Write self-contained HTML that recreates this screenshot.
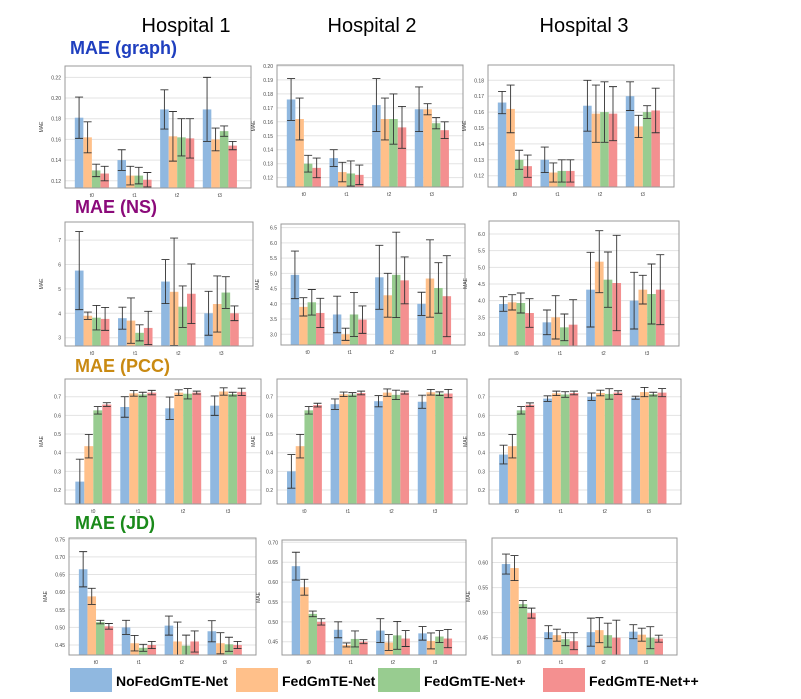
<!DOCTYPE html>
<html><head><meta charset="utf-8">
<style>
body{margin:0;background:#fff;}
svg{display:block;font-family:"Liberation Sans",sans-serif;}
</style></head>
<body>
<svg id="fig" width="801" height="699" viewBox="0 0 801 699" xmlns="http://www.w3.org/2000/svg">
<text x="186" y="32" font-size="20" text-anchor="middle">Hospital 1</text>
<text x="372" y="32" font-size="20" text-anchor="middle">Hospital 2</text>
<text x="584" y="32" font-size="20" text-anchor="middle">Hospital 3</text>
<text x="70" y="54" font-size="18" font-weight="bold" fill="#1f3fbf">MAE (graph)</text>
<text x="75" y="213" font-size="18" font-weight="bold" fill="#8b0a7a">MAE (NS)</text>
<text x="75" y="372" font-size="18" font-weight="bold" fill="#c98a12">MAE (PCC)</text>
<text x="75" y="529" font-size="18" font-weight="bold" fill="#1a8a1a">MAE (JD)</text>
<g id="panels"></g>
<g>
<rect x="70" y="668" width="42" height="24" fill="#90b8e0"/>
<text x="116" y="686" font-size="14" font-weight="bold">NoFedGmTE-Net</text>
<rect x="236" y="668" width="42" height="24" fill="#ffc08a"/>
<text x="282" y="686" font-size="14" font-weight="bold">FedGmTE-Net</text>
<rect x="378" y="668" width="42" height="24" fill="#98cc90"/>
<text x="424" y="686" font-size="14" font-weight="bold">FedGmTE-Net+</text>
<rect x="543" y="668" width="42" height="24" fill="#f49090"/>
<text x="589" y="686" font-size="14" font-weight="bold">FedGmTE-Net++</text>
</g>
</svg>
<script>
const categories = ["t0","t1","t2","t3"];
const seriesNames = ["NoFedGmTE-Net","FedGmTE-Net","FedGmTE-Net+","FedGmTE-Net++"];
// graph
const g1Vals = [[0.181,0.140,0.189,0.189],[0.162,0.125,0.163,0.160],[0.130,0.125,0.162,0.168],[0.127,0.121,0.161,0.154]];
const g1Errs = [[0.02,0.01,0.019,0.031],[0.015,0.009,0.024,0.011],[0.006,0.008,0.018,0.005],[0.007,0.007,0.019,0.004]];
const g2Vals = [[0.176,0.134,0.172,0.169],[0.162,0.124,0.162,0.169],[0.130,0.123,0.162,0.159],[0.127,0.122,0.156,0.154]];
const g2Errs = [[0.015,0.006,0.019,0.016],[0.015,0.007,0.015,0.004],[0.006,0.009,0.018,0.004],[0.007,0.007,0.015,0.006]];
const g3Vals = [[0.166,0.130,0.164,0.170],[0.162,0.122,0.159,0.151],[0.130,0.123,0.160,0.160],[0.126,0.123,0.159,0.161]];
const g3Errs = [[0.007,0.008,0.016,0.009],[0.015,0.006,0.018,0.007],[0.006,0.007,0.019,0.004],[0.007,0.007,0.017,0.014]];
// NS
const n1Vals = [[5.75,3.8,5.3,4.0],[3.9,3.7,4.88,4.38],[3.82,3.2,4.27,4.85],[3.77,3.4,4.8,4.0]];
const n1Errs = [[1.6,0.45,0.9,0.9],[0.15,0.93,2.2,1.15],[0.5,0.33,0.85,0.65],[0.47,0.68,1.22,0.3]];
const n2Vals = [[4.95,3.65,4.87,4.0],[3.9,3.0,4.28,4.83],[4.05,3.65,4.95,4.52],[3.7,3.48,4.77,4.25]];
const n2Errs = [[0.78,0.6,1.05,0.38],[0.3,0.2,0.72,1.27],[0.42,0.72,1.4,0.83],[0.48,0.45,0.77,1.33]];
const n3Vals = [[3.9,3.35,4.33,4.0],[3.95,3.5,5.17,4.33],[3.93,3.2,4.63,4.2],[3.63,3.28,4.53,4.33]];
const n3Errs = [[0.22,0.37,1.12,0.85],[0.23,0.65,0.93,0.43],[0.3,0.4,0.83,0.9],[0.43,0.75,1.43,1.05]];
// PCC
const p1Vals = [[0.245,0.645,0.638,0.652],[0.435,0.718,0.722,0.728],[0.627,0.712,0.716,0.714],[0.658,0.722,0.722,0.726]];
const p1Errs = [[0.12,0.055,0.06,0.052],[0.063,0.015,0.015,0.02],[0.02,0.012,0.028,0.01],[0.01,0.012,0.008,0.02]];
const p2Vals = [[0.30,0.66,0.676,0.673],[0.435,0.713,0.722,0.724],[0.627,0.712,0.71,0.716],[0.655,0.72,0.722,0.717]];
const p2Errs = [[0.09,0.028,0.03,0.035],[0.063,0.012,0.02,0.015],[0.02,0.01,0.025,0.01],[0.01,0.01,0.008,0.022]];
const p3Vals = [[0.39,0.69,0.70,0.695],[0.435,0.718,0.72,0.725],[0.627,0.712,0.715,0.714],[0.657,0.72,0.722,0.722]];
const p3Errs = [[0.05,0.015,0.02,0.008],[0.063,0.012,0.015,0.025],[0.02,0.015,0.028,0.01],[0.01,0.01,0.01,0.022]];
// JD
const j1Vals = [[0.665,0.50,0.505,0.489],[0.588,0.455,0.46,0.455],[0.515,0.442,0.448,0.452],[0.503,0.45,0.46,0.45]];
const j1Errs = [[0.05,0.02,0.027,0.03],[0.023,0.022,0.055,0.03],[0.005,0.01,0.03,0.02],[0.008,0.01,0.03,0.01]];
const j2Vals = [[0.64,0.48,0.478,0.471],[0.587,0.442,0.448,0.452],[0.52,0.457,0.466,0.463],[0.50,0.45,0.458,0.458]];
const j2Errs = [[0.035,0.02,0.03,0.017],[0.02,0.005,0.02,0.02],[0.007,0.02,0.035,0.015],[0.008,0.005,0.02,0.023]];
const j3Vals = [[0.597,0.461,0.461,0.462],[0.589,0.455,0.465,0.456],[0.517,0.447,0.455,0.45],[0.499,0.443,0.45,0.448]];
const j3Errs = [[0.02,0.013,0.028,0.014],[0.025,0.012,0.025,0.013],[0.007,0.013,0.024,0.022],[0.01,0.017,0.035,0.007]];
// tick labels
const ticksG1 = ["0.12","0.14","0.16","0.18","0.20","0.22"];
const ticksG2 = ["0.12","0.13","0.14","0.15","0.16","0.17","0.18","0.19","0.20"];
const ticksG3 = ["0.12","0.13","0.14","0.15","0.16","0.17","0.18"];
const ticksN1 = ["3","4","5","6","7"];
const ticksN2 = ["3.0","3.5","4.0","4.5","5.0","5.5","6.0","6.5"];
const ticksN3 = ["3.0","3.5","4.0","4.5","5.0","5.5","6.0"];
const ticksP = ["0.2","0.3","0.4","0.5","0.6","0.7"];
const ticksJ1 = ["0.45","0.50","0.55","0.60","0.65","0.70","0.75"];
const ticksJ2 = ["0.45","0.50","0.55","0.60","0.65","0.70"];
const ticksJ3 = ["0.45","0.50","0.55","0.60"];

const colors = ["#90b8e0","#ffc08a","#98cc90","#f49090"];
const panels = [
 {n:"graph-h1",x:65,y:66,w:186,h:122,ymin:0.113,ymax:0.231,v:g1Vals,e:g1Errs,t:ticksG1},
 {n:"graph-h2",x:277,y:65,w:186,h:122,ymin:0.1133,ymax:0.2007,v:g2Vals,e:g2Errs,t:ticksG2},
 {n:"graph-h3",x:488,y:65,w:186,h:122,ymin:0.1129,ymax:0.1896,v:g3Vals,e:g3Errs,t:ticksG3},
 {n:"ns-h1",x:65,y:222,w:188,h:124,ymin:2.66,ymax:7.74,v:n1Vals,e:n1Errs,t:ticksN1},
 {n:"ns-h2",x:281,y:224,w:184,h:121,ymin:2.648,ymax:6.62,v:n2Vals,e:n2Errs,t:ticksN2},
 {n:"ns-h3",x:489,y:221,w:190,h:125,ymin:2.64,ymax:6.39,v:n3Vals,e:n3Errs,t:ticksN3},
 {n:"pcc-h1",x:65,y:379,w:196,h:125,ymin:0.125,ymax:0.795,v:p1Vals,e:p1Errs,t:ticksP},
 {n:"pcc-h2",x:277,y:379,w:190,h:125,ymin:0.125,ymax:0.795,v:p2Vals,e:p2Errs,t:ticksP},
 {n:"pcc-h3",x:489,y:379,w:192,h:125,ymin:0.125,ymax:0.795,v:p3Vals,e:p3Errs,t:ticksP},
 {n:"jd-h1",x:69,y:538,w:187,h:117,ymin:0.4216,ymax:0.7537,v:j1Vals,e:j1Errs,t:ticksJ1},
 {n:"jd-h2",x:282,y:540,w:184,h:115,ymin:0.4166,ymax:0.7058,v:j2Vals,e:j2Errs,t:ticksJ2},
 {n:"jd-h3",x:492,y:538,w:185,h:117,ymin:0.4154,ymax:0.649,v:j3Vals,e:j3Errs,t:ticksJ3}
];
const NS="http://www.w3.org/2000/svg";
const root=document.getElementById('panels');
function mk(tag,attrs,parent){const el=document.createElementNS(NS,tag);for(const k in attrs)el.setAttribute(k,attrs[k]);parent.appendChild(el);return el;}
panels.forEach((p,pi)=>{
  const g=mk('g',{},root);
  
  
  const yS=v=>p.y+p.h-(v-p.ymin)/(p.ymax-p.ymin)*p.h;
  const xS=u=>p.x+(u+0.63)/4.36*p.w;
  const cp=mk('clipPath',{id:'cp'+pi},g);
  mk('rect',{x:p.x,y:p.y,width:p.w,height:p.h},cp);
  mk('rect',{x:p.x,y:p.y,width:p.w,height:p.h,fill:'#fff'},g);
  p.t.forEach(t=>{
    const yy=yS(parseFloat(t));
    const gl=mk('line',{x1:p.x,x2:p.x+p.w,y1:yy,y2:yy,stroke:'#e3e3e3','stroke-width':1},g);
    
    
    const tl=mk('text',{x:p.x-4,y:yy+2,'font-size':5,'text-anchor':'end',fill:'#444'},g);
    tl.textContent=t;
    
    
  });
  const yl=mk('text',{x:p.x-22,y:p.y+p.h/2,'font-size':5,'text-anchor':'middle',fill:'#444',transform:`rotate(-90 ${p.x-22} ${p.y+p.h/2})`},g);
  yl.textContent='MAE';
  
  
  const bars=mk('g',{'clip-path':`url(#cp${pi})`},g);
  const offs=[-0.3,-0.1,0.1,0.3];
  categories.forEach((c,ci)=>{
    p.v.forEach((ser,si)=>{
      const v=ser[ci],e=p.e[si][ci];
      const x0=xS(ci+offs[si]-0.1),x1=xS(ci+offs[si]+0.1);
      const top=yS(v);
      const b=mk('rect',{x:x0,y:top,width:x1-x0,height:p.y+p.h-top+2,fill:colors[si]},bars);
      
      
      const cx=(x0+x1)/2,ya=yS(v+e),yb=yS(v-e);
      const eb=mk('path',{d:`M${cx},${ya}V${yb}M${cx-4},${ya}H${cx+4}M${cx-4},${yb}H${cx+4}`,stroke:'#333','stroke-width':0.9,fill:'none'},bars);
      
      
    });
    const xl=mk('text',{x:xS(ci),y:p.y+p.h+9,'font-size':5,'text-anchor':'middle',fill:'#444'},g);
    xl.textContent=c;
    
    
  });
  mk('rect',{x:p.x,y:p.y,width:p.w,height:p.h,fill:'none',stroke:'#999','stroke-width':1},g);
});
</script>
</body></html>
